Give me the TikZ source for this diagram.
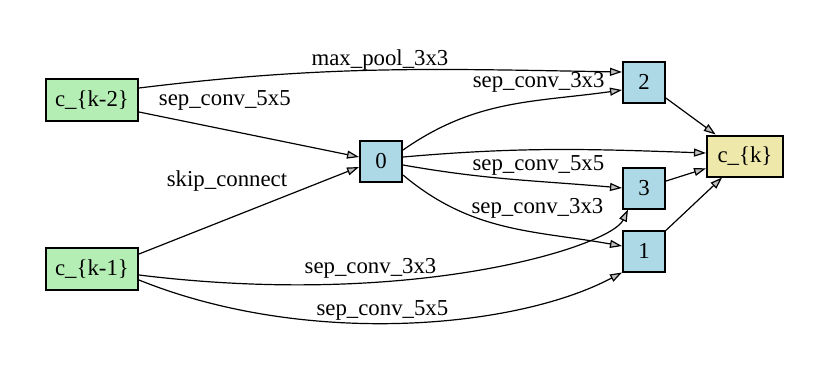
\documentclass[tikz,border=0pt]{standalone}
\usepackage{fontspec}
\setmainfont{Liberation Serif}
\usetikzlibrary{arrows.meta}
\definecolor{ingreen}{HTML}{B4EEB4}
\definecolor{opblue}{HTML}{ADD8E6}
\definecolor{outgold}{HTML}{EEE8AA}
\definecolor{tipgray}{HTML}{C0C0C0}

\begin{document}
\begin{tikzpicture}[
    x=0.5pt, y=0.5pt,
    font=\fontsize{11.4}{13}\selectfont,
    cellbox/.style={draw=black, line width=1pt, inner sep=2pt, minimum height=20.5pt},
    inbox/.style={cellbox, fill=ingreen, minimum width=46pt, minimum height=21pt},
    opbox/.style={cellbox, fill=opblue, minimum width=21pt},
    outbox/.style={cellbox, fill=outgold, minimum width=38pt},
    arrow/.style={-{Triangle[length=6pt, width=4pt, fill=tipgray]}, line width=0.6pt},
    lbl/.style={inner sep=1pt}
]
\useasboundingbox (0,0) rectangle (830,372);

\node[inbox] (ck2) at (92,272) {c\_\{k-2\}};
\node[inbox] (ck1) at (92,103) {c\_\{k-1\}};
\node[opbox] (n0) at (381,211) {0};
\node[opbox] (n2) at (644,290) {2};
\node[opbox] (n3) at (644,184) {3};
\node[opbox] (n1) at (644,121) {1};
\node[outbox] (ck) at (745,216) {c\_\{k\}};

% inputs to node 0
\draw[arrow] ([yshift=-6pt]ck2.east) -- node[lbl, pos=0.39, yshift=14.5pt] {sep\_conv\_5x5} ([yshift=2pt]n0.west);
\draw[arrow] ([yshift=7.5pt]ck1.east) -- node[lbl, pos=0.4, yshift=19pt] {skip\_connect} ([yshift=-3pt]n0.west);

% long edges from the inputs
\draw[arrow] ([yshift=6pt]ck2.east) to[out=7, in=179] node[lbl, pos=0.5, yshift=5pt] {max\_pool\_3x3} ([yshift=5pt]n2.west);
\draw[arrow] ([yshift=-3pt]ck1.east) to[out=-7, in=245, out distance=140pt, in distance=20pt] node[lbl, pos=0.31, yshift=7pt] {sep\_conv\_3x3} ([xshift=-8pt]n3.south);
\draw[arrow] ([yshift=-5.5pt]ck1.east) to[out=-22, in=208, out distance=90pt, in distance=60pt] node[lbl, pos=0.46, yshift=6.5pt] {sep\_conv\_5x5} (n1.south west);

% edges out of node 0
\draw[arrow] ([yshift=5.5pt]n0.east) to[out=35, in=188] node[lbl, pos=0.65, yshift=9pt] {sep\_conv\_3x3} ([yshift=-4pt]n2.west);
\draw[arrow] ([yshift=2pt]n0.east) to[out=5, in=178] ([yshift=1.5pt]ck.west);
\draw[arrow] ([yshift=-2pt]n0.east) to[out=-10, in=175] node[lbl, pos=0.63, yshift=8pt] {sep\_conv\_5x5} (n3.west);
\draw[arrow] ([yshift=-7pt]n0.east) to[out=-40, in=170] node[lbl, pos=0.65, yshift=12.5pt] {sep\_conv\_3x3} ([yshift=2.5pt]n1.west);

% into the output
\draw[arrow] (n2) -- (ck);
\draw[arrow] (n3) -- (ck);
\draw[arrow] (n1) -- (ck);
\end{tikzpicture}
\end{document}
